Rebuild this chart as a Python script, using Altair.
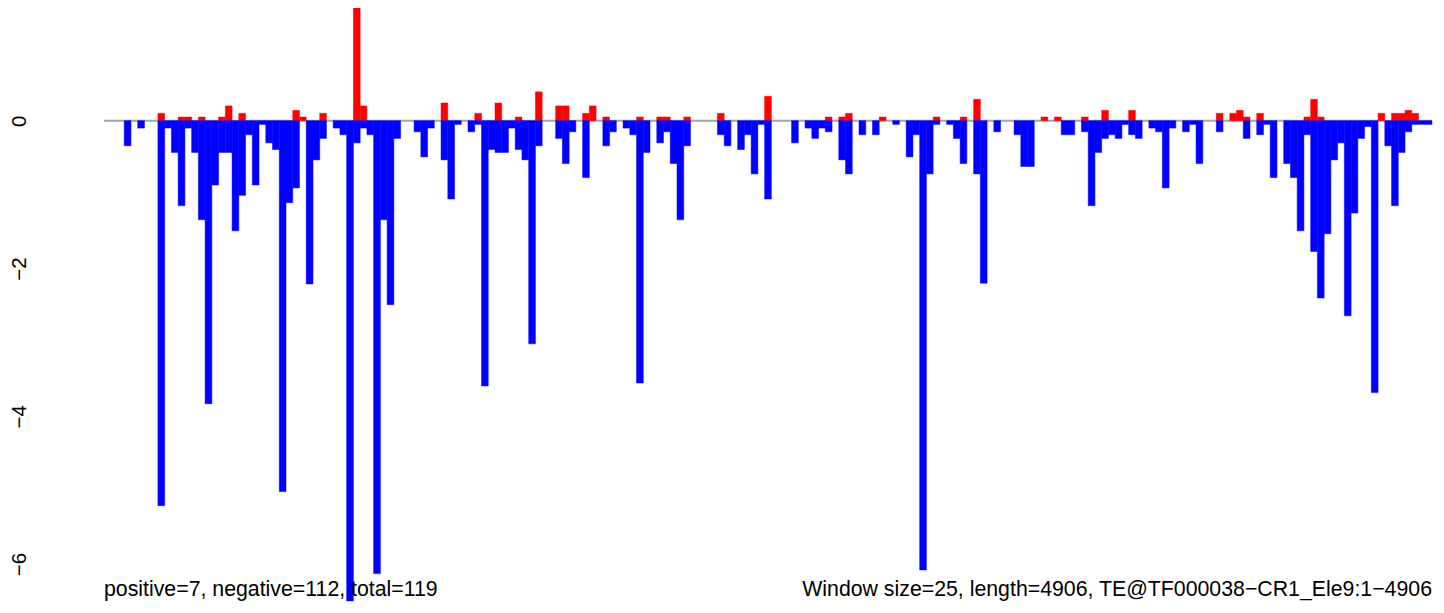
import altair as alt
import pandas as pd

# positive (red) and negative (blue) values per 25-bp window, 197 windows
pos = [0, 0, 0, 0, 0, 0, 0, 0, 0.10, 0,
       0, 0.05, 0.05, 0, 0.05, 0, 0, 0.05, 0.20, 0,
       0.10, 0, 0, 0, 0, 0, 0, 0, 0.14, 0.05,
       0, 0, 0.10, 0, 0, 0, 0, 1.58, 0.20, 0,
       0, 0, 0, 0, 0, 0, 0, 0, 0, 0,
       0.24, 0, 0, 0, 0, 0.10, 0, 0, 0.24, 0,
       0, 0.05, 0, 0, 0.39, 0, 0, 0.20, 0.20, 0,
       0, 0.10, 0.20, 0, 0.05, 0, 0, 0, 0, 0.05,
       0, 0, 0.05, 0.05, 0, 0, 0.05, 0, 0, 0,
       0, 0.10, 0, 0, 0, 0, 0, 0, 0.33, 0,
       0, 0, 0, 0, 0, 0, 0, 0.05, 0, 0.05,
       0.10, 0, 0, 0, 0, 0.05, 0, 0, 0, 0,
       0, 0, 0, 0.05, 0, 0, 0, 0.05, 0, 0.29,
       0, 0, 0, 0, 0, 0, 0, 0, 0, 0.05,
       0, 0.05, 0, 0, 0, 0.05, 0, 0, 0.14, 0,
       0, 0, 0.14, 0, 0, 0, 0, 0, 0, 0,
       0, 0, 0, 0, 0, 0.10, 0, 0.10, 0.14, 0.05,
       0, 0.10, 0, 0, 0, 0, 0, 0, 0.05, 0.29,
       0.05, 0, 0, 0, 0, 0, 0, 0, 0, 0.10,
       0, 0.10, 0.10, 0.14, 0.10, 0, 0]

neg = [0, 0, 0, -0.34, 0, -0.10, 0, 0, -5.21, -0.10,
       -0.43, -1.15, -0.10, -0.43, -1.34, -3.83, -0.87, -0.43, -0.43, -1.49,
       -1.01, -0.19, -0.87, -0.05, -0.30, -0.39, -5.02, -1.11, -0.91, 0,
       -2.21, -0.53, -0.24, 0, -0.10, -0.19, -6.50, -0.30, -0.10, -0.19,
       -6.13, -1.34, -2.49, -0.24, 0, 0, -0.15, -0.49, -0.10, 0,
       -0.53, -1.06, -0.05, 0, -0.15, -0.05, -3.59, -0.39, -0.43, -0.43,
       -0.10, -0.39, -0.53, -3.02, -0.34, 0, 0, -0.24, -0.58, -0.15,
       0, -0.77, 0, 0, -0.34, -0.15, 0, -0.10, -0.19, -3.55,
       -0.43, 0, -0.30, -0.15, -0.58, -1.34, -0.34, 0, 0, 0,
       0, -0.19, -0.34, 0, -0.39, -0.19, -0.72, -0.05, -1.06, 0,
       0, 0, -0.30, 0, -0.10, -0.24, -0.10, -0.15, 0, -0.53,
       -0.72, 0, -0.19, 0, -0.19, 0, 0, -0.05, 0, -0.49,
       -0.19, -6.08, -0.72, -0.05, 0, -0.05, -0.24, -0.58, 0, -0.72,
       -2.20, 0, -0.15, 0, 0, -0.19, -0.62, -0.62, 0, 0,
       0, 0, -0.19, -0.19, 0, -0.15, -1.15, -0.43, -0.24, -0.19,
       -0.24, -0.05, -0.19, -0.24, 0, -0.10, -0.15, -0.91, -0.10, 0,
       -0.15, -0.05, -0.58, 0, 0, -0.15, 0, 0, 0, -0.24,
       0, -0.19, -0.05, -0.77, 0, -0.58, -0.77, -1.49, -0.19, -1.77,
       -2.40, -1.53, -0.53, -0.30, -2.64, -1.25, -0.24, -0.08, -3.68, 0,
       -0.34, -1.15, -0.43, -0.15, -0.05, -0.05, -0.05]

y_ticks = [0, -2, -4, -6]
n_pos, n_neg = 7, 112
left_note = f"positive={n_pos}, negative={n_neg}, total={n_pos + n_neg}"
right_note = "Window size=25, length=4906, TE@TF000038\u2212CR1_Ele9:1\u22124906"

n = len(pos)
rows = []
for i in range(n):
    if pos[i] > 0:
        rows.append({"x0": i, "x1": i + 1, "value": pos[i], "base": 0, "kind": "pos"})
    if neg[i] < 0:
        rows.append({"x0": i, "x1": i + 1, "value": neg[i], "base": 0, "kind": "neg"})
df = pd.DataFrame(rows)

xscale = alt.Scale(domain=[0, n], nice=False, zero=False)
yscale = alt.Scale(domain=[-6, 1.5254], nice=False, zero=False)
cscale = alt.Scale(domain=["pos", "neg"], range=["#FF0000", "#0000FF"])

FONT = "Liberation Sans"
FS = 21.3

zero_line = alt.Chart(pd.DataFrame({"value": [0]})).mark_rule(
    color="#A6A6A6", strokeWidth=2
).encode(
    y=alt.Y("value:Q", scale=yscale,
            axis=alt.Axis(values=y_ticks, format="d", labelAngle=270, labelAlign="center",
                          labelBaseline="middle", labelPadding=84.5, ticks=False,
                          domain=False, grid=False, title=None, labelFontSize=20.5,
                          labelFont=FONT, labelColor="black"))
)

bars = alt.Chart(df).mark_rect(clip=False, strokeWidth=0.5).encode(
    x=alt.X("x0:Q", scale=xscale, axis=None),
    x2="x1:Q",
    y=alt.Y("value:Q", scale=yscale),
    y2="base:Q",
    color=alt.Color("kind:N", scale=cscale, legend=None),
    stroke=alt.Stroke("kind:N", scale=cscale, legend=None),
)

notes = pd.DataFrame({
    "x": [0, n], "y": [-6.35, -6.35], "label": [left_note, right_note],
})
left_text = alt.Chart(notes.iloc[[0]]).mark_text(
    align="left", baseline="middle", fontSize=FS, font=FONT, color="black", clip=False
).encode(x=alt.X("x:Q", scale=xscale), y=alt.Y("y:Q", scale=yscale), text="label:N")
right_text = alt.Chart(notes.iloc[[1]]).mark_text(
    align="right", baseline="middle", fontSize=FS, font=FONT, color="black", clip=False
).encode(x=alt.X("x:Q", scale=xscale), y=alt.Y("y:Q", scale=yscale), text="label:N")

chart = alt.layer(zero_line, bars, left_text, right_text).properties(
    width=1328, height=556,
    autosize=alt.AutoSizeParams(type="none"),
    padding={"left": 96, "top": 0, "right": 4, "bottom": 41},
).configure_view(stroke=None)

chart.save("out.html", embed_options={"renderer": "svg", "actions": False})
